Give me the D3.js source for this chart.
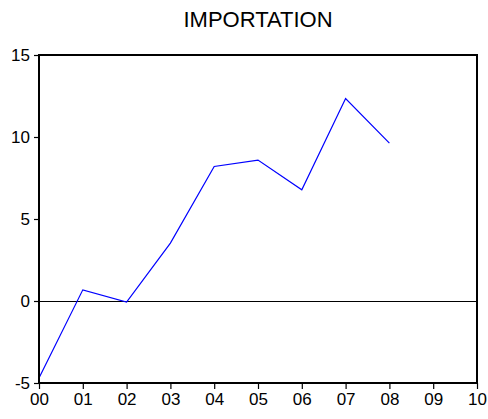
<!DOCTYPE html>
<html>
<head>
<meta charset="utf-8">
<script src="https://cdn.jsdelivr.net/npm/d3@7"></script>
<style>
  body { margin: 0; background: #fff; }
  text { font-family: Arial, "Liberation Sans", sans-serif; }
</style>
</head>
<body>
<script>
// data
var years = ["00", "01", "02", "03", "04", "05", "06", "07", "08", "09", "10"];
var values = [-4.7, 0.68, -0.07, 3.53, 8.2, 8.59, 6.78, 12.35, 9.63];
var yTicks = [-5, 0, 5, 10, 15];
var title = "IMPORTATION";

var W = 488, H = 419;
var margin = { top: 55, right: 11, bottom: 36, left: 39 },
    width = W - margin.left - margin.right,
    height = H - margin.top - margin.bottom;

var svg = d3.select("body").append("svg")
    .attr("width", W)
    .attr("height", H);

var g = svg.append("g")
    .attr("transform", "translate(" + margin.left + "," + margin.top + ")");

var x = d3.scalePoint().domain(years).range([0, width]);
var y = d3.scaleLinear().domain([-5, 15]).range([height, 0]);

// zero line
g.append("line")
    .attr("x1", 0).attr("x2", width)
    .attr("y1", Math.round(y(0)) + 0.5).attr("y2", Math.round(y(0)) + 0.5)
    .attr("stroke", "#000").attr("stroke-width", 1);

// series
var line = d3.line()
    .x(function (d, i) { return x(years[i]); })
    .y(function (d) { return y(d); });

g.append("path")
    .datum(values)
    .attr("fill", "none")
    .attr("stroke", "#0000ff")
    .attr("stroke-width", 1.2)
    .attr("d", line);

// axes
var xAxis = g.append("g")
    .attr("transform", "translate(0," + height + ")")
    .call(d3.axisBottom(x).tickSize(6).tickPadding(4));

var yAxis = g.append("g")
    .call(d3.axisLeft(y).tickValues(yTicks).tickFormat(String).tickSize(5).tickPadding(4));

[xAxis, yAxis].forEach(function (a) {
    a.select(".domain").remove();
    a.selectAll("text").attr("font-size", 17).attr("fill", "#000")
        .style("font-family", "Arial, 'Liberation Sans', sans-serif");
    a.selectAll(".tick line").attr("stroke", "#000").attr("stroke-width", 1.2);
});

// frame
g.append("rect")
    .attr("x", 0).attr("y", 0)
    .attr("width", width).attr("height", height)
    .attr("fill", "none")
    .attr("stroke", "#000")
    .attr("stroke-width", 2);

// title
svg.append("text")
    .attr("x", margin.left + width / 2)
    .attr("y", 27)
    .attr("text-anchor", "middle")
    .attr("font-size", 22)
    .text(title);
</script>
</body>
</html>
